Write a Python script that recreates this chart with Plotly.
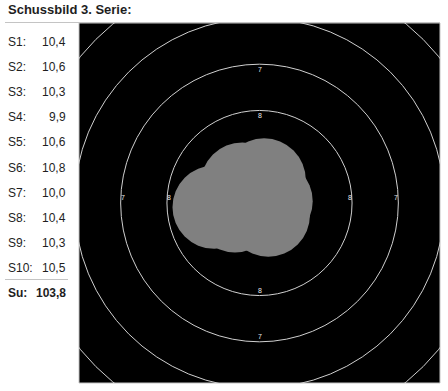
import plotly.graph_objects as go

# ---------------- data ----------------
title_text = "Schussbild 3. Serie:"
shot_labels = ["S1", "S2", "S3", "S4", "S5", "S6", "S7", "S8", "S9", "S10"]
shot_scores = [10.4, 10.6, 10.3, 9.9, 10.6, 10.8, 10.0, 10.4, 10.3, 10.5]
# shot centres in ring units (1 unit = distance between two rings)
shot_x = [-0.37, 0.19, -0.59, -0.98, -0.21, 0.25, -0.81, -0.53, -0.46, 0.10]
shot_y = [0.41, -0.26, 0.06, -0.09, 0.13, 0.04, -0.04, -0.17, -0.06, 0.50]
total_label = "Su:"
ring_numbers = [9, 8, 7, 6, 5]
ring_radii = [1.0, 2.0, 3.0, 4.0, 5.0]
labeled_rings = [8, 7]

# ---------------- style ----------------
W, H = 448, 391
L, R, T, B = 79, 8, 23, 8
SHOT_R = 0.9
FONT = "Liberation Sans, Arial, sans-serif"
TXT = "#1e1e1e"
RING_COL = "#d0d0d0"
SHOT_COL = "#808080"
LINE_COL = "#c4c4c4"

PW, PH = W - L - R, H - T - B


def px2x(p):
    return (p - L) / PW


def py2y(p):
    return (H - B - p) / PH


def fmt(v):
    return f"{v:.1f}".replace(".", ",")


fig = go.Figure()
fig.add_trace(go.Scatter(
    x=shot_x, y=shot_y, mode="markers",
    marker=dict(size=1, color="rgba(0,0,0,0)"),
    text=[f"{l} {fmt(s)}" for l, s in zip(shot_labels, shot_scores)],
    hoverinfo="text", showlegend=False,
))

shapes = []
for rr in ring_radii:
    shapes.append(dict(type="circle", xref="x", yref="y",
                       x0=-rr, x1=rr, y0=-rr, y1=rr,
                       line=dict(color=RING_COL, width=1)))
for sx, sy in zip(shot_x, shot_y):
    shapes.append(dict(type="circle", xref="x", yref="y",
                       x0=sx - SHOT_R, x1=sx + SHOT_R, y0=sy - SHOT_R, y1=sy + SHOT_R,
                       fillcolor=SHOT_COL, line=dict(color=SHOT_COL, width=0)))
# frame and separator lines
shapes.append(dict(type="rect", xref="paper", yref="paper", x0=0, x1=1, y0=0, y1=1,
                   line=dict(color=LINE_COL, width=1)))
shapes.append(dict(type="line", xref="paper", yref="paper",
                   x0=px2x(5), x1=1, y0=py2y(22.5), y1=py2y(22.5),
                   line=dict(color=LINE_COL, width=1)))
shapes.append(dict(type="line", xref="paper", yref="paper",
                   x0=px2x(5), x1=px2x(68), y0=py2y(279.5), y1=py2y(279.5),
                   line=dict(color=LINE_COL, width=1)))

ann = []
# ring numbers
for n, rr in zip(ring_numbers, ring_radii):
    if n not in labeled_rings:
        continue
    f = dict(size=7, color="#e8e8e8", family=FONT)
    ann.append(dict(x=rr - 0.04, y=0, xref="x", yref="y", text=str(n), showarrow=False,
                    xanchor="center", yanchor="bottom", font=f))
    ann.append(dict(x=-(rr - 0.04), y=0, xref="x", yref="y", text=str(n), showarrow=False,
                    xanchor="center", yanchor="bottom", font=f))
    ann.append(dict(x=0, y=rr, xref="x", yref="y", text=str(n), showarrow=False,
                    xanchor="center", yanchor="top", font=f))
    ann.append(dict(x=0, y=-rr, xref="x", yref="y", text=str(n), showarrow=False,
                    xanchor="center", yanchor="bottom", font=f))

# title
ann.append(dict(x=px2x(6), y=py2y(10), xref="paper", yref="paper",
                text=f"<b>{title_text}</b>", showarrow=False,
                xanchor="left", yanchor="middle",
                font=dict(size=13, color=TXT, family=FONT)))

# score list
row_y0, row_dy = 42, 25.1
for i, (lab, s) in enumerate(zip(shot_labels, shot_scores)):
    yy = py2y(row_y0 + i * row_dy)
    ann.append(dict(x=px2x(6), y=yy, xref="paper", yref="paper", text=f"{lab}:",
                    showarrow=False, xanchor="left", yanchor="middle",
                    font=dict(size=12, color=TXT, family=FONT)))
    ann.append(dict(x=px2x(68), y=yy, xref="paper", yref="paper", text=fmt(s),
                    showarrow=False, xanchor="right", yanchor="middle",
                    font=dict(size=12, color=TXT, family=FONT)))
yy = py2y(row_y0 + len(shot_labels) * row_dy)
ann.append(dict(x=px2x(6), y=yy, xref="paper", yref="paper", text=f"<b>{total_label}</b>",
                showarrow=False, xanchor="left", yanchor="middle",
                font=dict(size=12, color=TXT, family=FONT)))
ann.append(dict(x=px2x(68), y=yy, xref="paper", yref="paper",
                text=f"<b>{fmt(sum(shot_scores))}</b>",
                showarrow=False, xanchor="right", yanchor="middle",
                font=dict(size=12, color=TXT, family=FONT)))

ax = dict(visible=False, showgrid=False, zeroline=False, fixedrange=True)
fig.update_layout(
    width=W, height=H,
    margin=dict(l=L, r=R, t=T, b=B, pad=0),
    paper_bgcolor="white", plot_bgcolor="black",
    xaxis=dict(range=[-3.9, 3.9], **ax),
    yaxis=dict(range=[-3.89, 3.89], **ax),
    shapes=shapes, annotations=ann,
    showlegend=False,
)
fig.write_html("out.html")
